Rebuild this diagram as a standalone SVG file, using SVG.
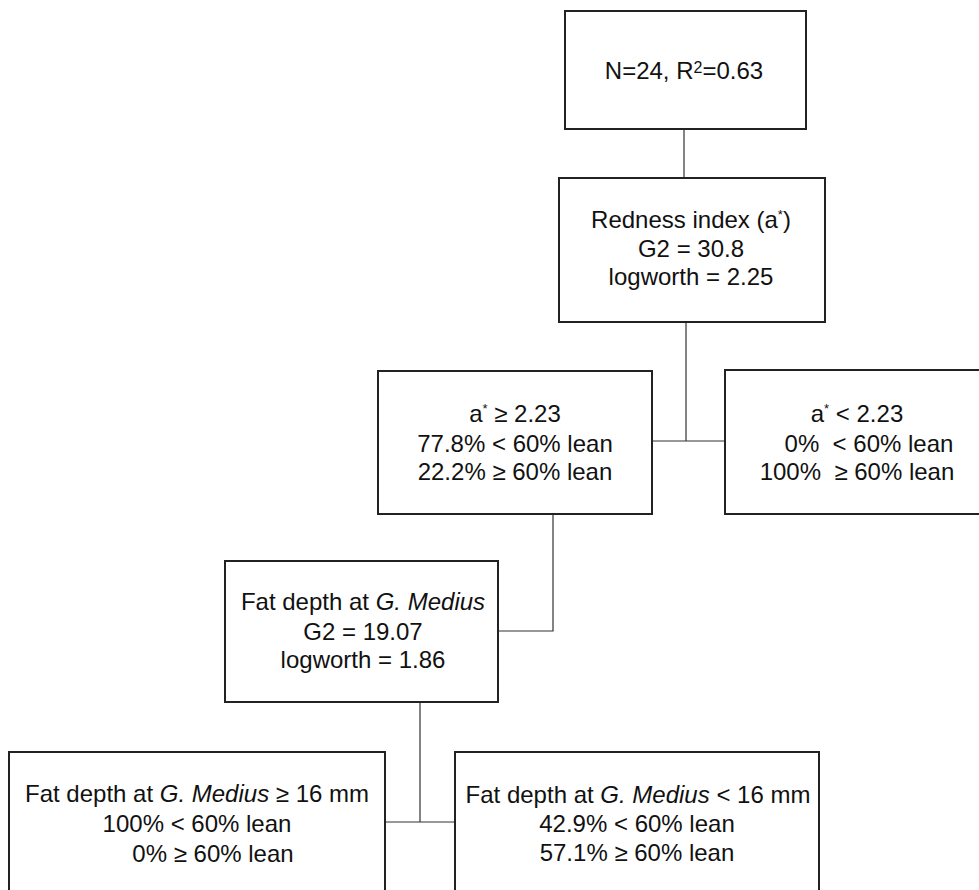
<svg xmlns="http://www.w3.org/2000/svg" width="979" height="890" viewBox="0 0 979 890">
<style>
.box{fill:#fff;stroke:#222;stroke-width:2}
.t{font-family:"Liberation Sans",Arial,sans-serif;font-size:24px;fill:#111;text-anchor:middle}
.s{font-size:13px}
.sup{font-size:16px}
.i{font-style:italic}
.c{fill:none;stroke:#333;stroke-width:1.2}
</style>
<rect width="979" height="890" fill="#fff"/>
<g id="connectors">
<path class="c" d="M684,129 V178"/>
<path class="c" d="M686,322 V441 M652,441 H725"/>
<path class="c" d="M553,514 V631 H498"/>
<path class="c" d="M420,702 V822 M385,822 H455"/>
</g>
<g id="root">
<rect class="box" x="565" y="11" width="241" height="118"/>
<text class="t" x="684" y="79">N=24, R<tspan class="sup" dy="-6">2</tspan><tspan dy="6">=0.63</tspan></text>
</g>
<g id="redness">
<rect class="box" x="559" y="178" width="266" height="144"/>
<text class="t" x="691" y="228">Redness index (a<tspan class="s" dy="-9">*</tspan><tspan dy="9">)</tspan></text>
<text class="t" x="691" y="257">G2 = 30.8</text>
<text class="t" x="691" y="285">logworth = 2.25</text>
</g>
<g id="a-high">
<rect class="box" x="378" y="371" width="274" height="143"/>
<text class="t" x="515" y="422">a<tspan class="s" dy="-9">*</tspan><tspan dy="9"> ≥ 2.23</tspan></text>
<text class="t" x="515" y="452">77.8% &lt; 60% lean</text>
<text class="t" x="515" y="480">22.2% ≥ 60% lean</text>
</g>
<g id="a-low">
<rect class="box" x="725" y="370" width="262" height="144"/>
<text class="t" x="857" y="422">a<tspan class="s" dy="-9">*</tspan><tspan dy="9"> &lt; 2.23</tspan></text>
<text class="t" x="869" y="452" xml:space="preserve">0%  &lt; 60% lean</text>
<text class="t" x="857" y="480" xml:space="preserve">100%  ≥ 60% lean</text>
</g>
<g id="fat">
<rect class="box" x="225" y="561" width="273" height="141"/>
<text class="t" x="363" y="610">Fat depth at <tspan class="i">G. Medius</tspan></text>
<text class="t" x="363" y="640">G2 = 19.07</text>
<text class="t" x="363" y="668">logworth = 1.86</text>
</g>
<g id="fat-high">
<rect class="box" x="9" y="752" width="376" height="150"/>
<text class="t" x="197" y="802">Fat depth at <tspan class="i">G. Medius</tspan> ≥ 16 mm</text>
<text class="t" x="197" y="832">100% &lt; 60% lean</text>
<text class="t" x="213" y="862">0% ≥ 60% lean</text>
</g>
<g id="fat-low">
<rect class="box" x="455" y="752" width="364" height="150"/>
<text class="t" x="638" y="803">Fat depth at <tspan class="i">G. Medius</tspan> &lt; 16 mm</text>
<text class="t" x="637" y="832">42.9% &lt; 60% lean</text>
<text class="t" x="637" y="861">57.1% ≥ 60% lean</text>
</g>
</svg>
